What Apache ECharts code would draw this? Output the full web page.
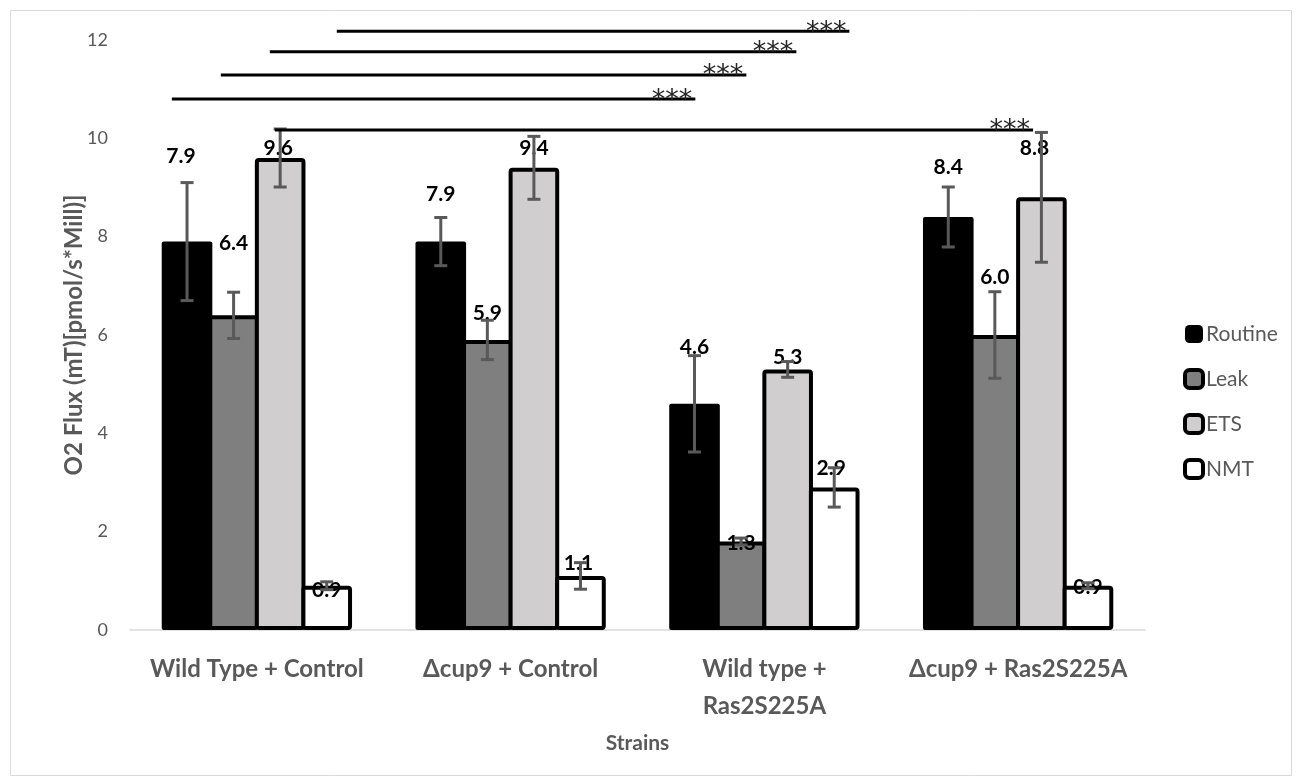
<!DOCTYPE html>
<html>
<head>
<meta charset="utf-8">
<script src="https://cdn.jsdelivr.net/npm/echarts@6/dist/echarts.min.js"></script>
<style>
  html, body { margin: 0; padding: 0; background: #ffffff; }
  #chart { width: 1298px; height: 782px; }
</style>
</head>
<body>
<div id="chart"></div>
<script>
// Strains on the category axis
const categories = ['Wild Type + Control', 'Δcup9 + Control', 'Wild type +\nRas2S225A', 'Δcup9 + Ras2S225A'];
const seriesNames = ['Routine', 'Leak', 'ETS', 'NMT'];

// Mean O2 flux per strain
const routine = [7.9, 7.9, 4.6, 8.4];
const leak    = [6.4, 5.9, 1.8, 6.0];
const ets     = [9.6, 9.4, 5.3, 8.8];
const nmt     = [0.9, 1.1, 2.9, 0.9];

// Error (±) per strain
const routineErr = [1.2, 0.49, 0.98, 0.61];
const leakErr    = [0.47, 0.40, 0.07, 0.88];
const etsErr     = [0.59, 0.64, 0.16, 1.32];
const nmtErr     = [0.08, 0.27, 0.40, 0.06];

// Value axis ticks
const yMin = 0, yMax = 12, yStep = 2;

// Significance brackets: strain index + fraction of a category band, and the height in axis units
const sigFrom  = [[0, 0.315], [0, 0.051], [0, -0.142], [0, -0.335], [0, 0.071]];
const sigTo    = [[2, 0.335], [2, 0.126], [2, -0.071], [2, -0.272], [3, 0.059]];
const sigLevel = [12.18, 11.76, 11.29, 10.80, 10.17];
const sigText  = ['***', '***', '***', '***', '***'];

// Hand-placed value label shifts (px) per series, per strain
const labelShift = [
  [[-6, -75], [0, -37], [0, -47], [0, -40]],
  [[0, -62], [0, -17], [0, 12], [0, -48]],
  [[-2, 0], [0, -10], [0, -2], [-7, -39]],
  [[0, 14], [-2, -3], [-3, -9], [0, 11]]
];

const values = [routine, leak, ets, nmt];
const errors = [routineErr, leakErr, etsErr, nmtErr];
const fills  = ['#000000', '#7f7f7f', '#d0cece', '#ffffff'];
const CAT_GAP = 0.25;
const BAR_GAP = -0.08;
const FONT = 'Lato, "Open Sans", sans-serif';

const chart = echarts.init(document.getElementById('chart'), null, { renderer: 'canvas' });

const barSeries = seriesNames.map((name, s) => ({
  name: name,
  type: 'bar',
  barGap: (BAR_GAP * 100) + '%',
  barCategoryGap: (CAT_GAP * 100) + '%',
  z: 2,
  itemStyle: {
    color: fills[s],
    borderColor: '#000000',
    borderWidth: s === 0 ? 0 : 4,
    borderRadius: 2
  },
  label: {
    show: true,
    position: 'top',
    distance: 0,
    color: '#000000',
    fontFamily: FONT,
    fontWeight: 'bold',
    fontSize: 21,
    lineHeight: 20,
    formatter: p => p.value.toFixed(1)
  },
  emphasis: { disabled: true },
  data: values[s].map((v, c) => ({
    value: v,
    label: { offset: labelShift[s][c] }
  }))
}));

// Error bars for every bar, placed on the same band offsets as the grouped bars
const errData = [];
values.forEach((arr, s) => arr.forEach((v, c) => errData.push([c, s, v, errors[s][c]])));

const errorSeries = {
  type: 'custom',
  z: 3,
  silent: true,
  renderItem: function (params, api) {
    const c = api.value(0), s = api.value(1), v = api.value(2), e = api.value(3);
    const n = seriesNames.length;
    const band = api.size([1, 0])[0];
    const usable = band * (1 - CAT_GAP);
    const barW = usable / (n + (n - 1) * BAR_GAP);
    const step = barW * (1 + BAR_GAP);
    const cx = api.coord([c, 0])[0] - usable / 2 + barW / 2 + step * s;
    const yTop = api.coord([c, v + e])[1];
    const yBot = api.coord([c, v - e])[1];
    const hw = 6.5;
    const st = { stroke: '#595959', lineWidth: 3 };
    return {
      type: 'group',
      children: [
        { type: 'line', shape: { x1: cx, y1: yTop, x2: cx, y2: yBot }, style: st },
        { type: 'line', shape: { x1: cx - hw, y1: yTop, x2: cx + hw, y2: yTop }, style: st },
        { type: 'line', shape: { x1: cx - hw, y1: yBot, x2: cx + hw, y2: yBot }, style: st }
      ]
    };
  },
  data: errData
};

// Significance brackets
const sigData = sigLevel.map((y, i) => [sigFrom[i][0], sigFrom[i][1], sigTo[i][0], sigTo[i][1], y, i]);
const sigSeries = {
  type: 'custom',
  z: 4,
  silent: true,
  clip: false,
  renderItem: function (params, api) {
    const band = api.size([1, 0])[0];
    const y = api.coord([0, api.value(4)])[1];
    const x1 = api.coord([api.value(0), 0])[0] + api.value(1) * band;
    const x2 = api.coord([api.value(2), 0])[0] + api.value(3) * band;
    const i = api.value(5);
    return {
      type: 'group',
      children: [
        { type: 'line', shape: { x1: x1, y1: y, x2: x2, y2: y }, style: { stroke: '#000000', lineWidth: 3 } },
        { type: 'text', x: x2 - 3, y: y + 15, style: {
            text: sigText[i], align: 'right', verticalAlign: 'bottom',
            fill: '#262626', font: '27px "DejaVu Sans", sans-serif' } }
      ]
    };
  },
  data: sigData
};

const legendData = seriesNames.map((name, s) => ({
  name: name,
  icon: 'roundRect',
  itemStyle: {
    color: fills[s],
    borderColor: '#000000',
    borderWidth: s === 0 ? 0 : 4
  }
}));

chart.setOption({
  animation: false,
  backgroundColor: '#ffffff',
  graphic: [{
    type: 'rect',
    left: 8, top: 8,
    shape: { width: 1281, height: 765 },
    style: { fill: 'none', stroke: '#d9d9d9', lineWidth: 1 },
    silent: true
  }],
  grid: { left: 130, right: 153, top: 40, bottom: 152 },
  legend: {
    orient: 'vertical',
    left: 1178,
    top: 318,
    itemWidth: 18,
    itemHeight: 18,
    itemGap: 23,
    textStyle: { color: '#595959', fontFamily: FONT, fontSize: 21, lineHeight: 22, padding: [0, 0, 0, -2] },
    data: legendData
  },
  xAxis: {
    type: 'category',
    data: categories,
    name: 'Strains',
    nameLocation: 'middle',
    nameGap: 103,
    nameTextStyle: { color: '#595959', fontFamily: FONT, fontWeight: 'bold', fontSize: 21 },
    axisLine: { lineStyle: { color: '#d9d9d9', width: 1.5 } },
    axisTick: { show: false },
    axisLabel: {
      color: '#595959', fontFamily: FONT, fontWeight: 'bold', fontSize: 24,
      margin: 21, lineHeight: 37, interval: 0
    }
  },
  yAxis: {
    type: 'value',
    min: yMin, max: yMax, interval: yStep,
    name: 'O2 Flux (mT)[pmol/s*Mill)]',
    nameLocation: 'middle',
    nameGap: 44,
    nameMoveOverlap: false,
    nameTextStyle: { color: '#595959', fontFamily: FONT, fontWeight: 'bold', fontSize: 24 },
    axisLine: { show: false },
    axisTick: { show: false },
    splitLine: { show: false },
    axisLabel: { color: '#595959', fontFamily: FONT, fontSize: 18, margin: 22 }
  },
  series: barSeries.concat([errorSeries, sigSeries])
});
</script>
</body>
</html>
